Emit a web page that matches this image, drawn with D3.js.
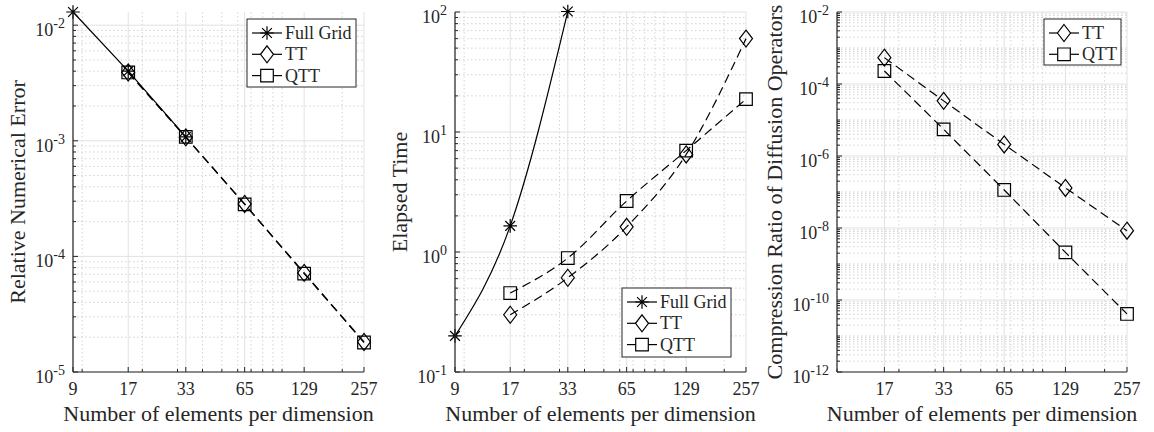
<!DOCTYPE html>
<html><head><meta charset="utf-8">
<script src="https://cdn.jsdelivr.net/npm/d3@7/dist/d3.min.js"></script>
<style>body{margin:0;background:#fff}svg{display:block}text{font-family:"Liberation Serif","Times New Roman",serif;fill:#262626}</style>
</head><body>
<svg id="c" width="1154" height="432"></svg>
<script>
// ---- data ----
const xTicksAll = [9, 17, 33, 65, 129, 257];
const xFull = [9, 17, 33];
const xTT = [17, 33, 65, 129, 257];
const errFull = [0.013, 0.0040, 0.00108];
const errTT = [0.0039, 0.00107, 2.84e-4, 7.2e-5, 1.82e-5];
const errQTT = [0.0039, 0.00108, 2.82e-4, 7.1e-5, 1.80e-5];
const timeFull = [0.2, 1.65, 101];
const timeTT = [0.30, 0.61, 1.62, 6.5, 60];
const timeQTT = [0.455, 0.89, 2.66, 7.0, 18.8];
const compTT = [5.4e-4, 3.4e-5, 2.1e-6, 1.3e-7, 8.4e-9];
const compQTT = [2.3e-4, 5.5e-6, 1.14e-7, 2.1e-9, 4.1e-11];
const yTicks1 = [1e-5, 1e-4, 1e-3, 1e-2];
const yTicks2 = [1e-1, 1e0, 1e1, 1e2];
const yTicks3 = [1e-12, 1e-10, 1e-8, 1e-6, 1e-4, 1e-2];
const xTicks3 = [17, 33, 65, 129, 257];
const xMinor = [10, 20, 30, 40, 50, 60, 70, 80, 90, 100, 200];

const svg = d3.select("#c");
const AX = "#262626";

function markerPath(type, r) {
  if (type === "star") {
    const d = r * 0.72;
    return `M${-r},0L${r},0M0,${-r}L0,${r}M${-d},${-d}L${d},${d}M${-d},${d}L${d},${-d}`;
  }
  if (type === "diamond") return `M0,${-8.5}L6.5,0L0,8.5L-6.5,0Z`;
  return `M-6.3,-6.3L6.3,-6.3L6.3,6.3L-6.3,6.3Z`;
}

function panel(cfg) {
  const g = svg.append("g");
  const x = d3.scaleLog().domain(cfg.xDomain).range([cfg.left, cfg.right]);
  const y = d3.scaleLog().domain(cfg.yDomain).range([372, 12]);
  const [y0, y1] = cfg.yDomain;
  // minor y values
  const yMinor = [];
  for (let e = Math.floor(Math.log10(y0)); e <= Math.ceil(Math.log10(y1)); e++) {
    for (let k = 1; k <= 9; k++) {
      const v = k * Math.pow(10, e);
      if (v >= y0 * 0.999 && v <= y1 * 1.001 && !cfg.yTicks.some(t => Math.abs(t - v) / v < 1e-6)) yMinor.push(v);
    }
  }
  const xm = xMinor.filter(v => v >= cfg.xDomain[0] && v <= cfg.xDomain[1] && !cfg.xTicks.includes(v));
  // minor grid
  g.selectAll(null).data(yMinor).join("line")
    .attr("x1", cfg.left).attr("x2", cfg.right).attr("y1", d => y(d)).attr("y2", d => y(d))
    .attr("stroke", "#c8c8c8").attr("stroke-width", 0.8).attr("stroke-dasharray", "1.5,2.5");
  g.selectAll(null).data(xm).join("line")
    .attr("y1", 12).attr("y2", 372).attr("x1", d => x(d)).attr("x2", d => x(d))
    .attr("stroke", "#c8c8c8").attr("stroke-width", 0.8).attr("stroke-dasharray", "1.5,2.5");
  // major grid
  g.selectAll(null).data(cfg.yTicks).join("line")
    .attr("x1", cfg.left).attr("x2", cfg.right).attr("y1", d => y(d)).attr("y2", d => y(d))
    .attr("stroke", "#e2e2e2").attr("stroke-width", 1);
  g.selectAll(null).data(cfg.xTicks).join("line")
    .attr("y1", 12).attr("y2", 372).attr("x1", d => x(d)).attr("x2", d => x(d))
    .attr("stroke", "#e2e2e2").attr("stroke-width", 1);

  // series
  cfg.series.forEach(s => {
    const pts = s.xs.map((xv, i) => [x(xv), y(s.ys[i])]);
    const line = d3.line().curve(cfg.smooth ? d3.curveMonotoneX : d3.curveLinear);
    g.append("path").attr("d", line(pts)).attr("fill", "none").attr("stroke", "#000")
      .attr("stroke-width", 1.2).attr("stroke-dasharray", s.dash ? "9,5" : null);
    g.selectAll(null).data(pts).join("path")
      .attr("transform", d => `translate(${d[0]},${d[1]})`)
      .attr("d", markerPath(s.marker, 6.8)).attr("fill", "none").attr("stroke", "#000").attr("stroke-width", 1.2);
  });

  // axes lines
  g.append("line").attr("x1", cfg.left).attr("x2", cfg.left).attr("y1", 12).attr("y2", 372).attr("stroke", AX).attr("stroke-width", 1.2);
  g.append("line").attr("x1", cfg.left).attr("x2", cfg.right).attr("y1", 372).attr("y2", 372).attr("stroke", AX).attr("stroke-width", 1.2);
  // ticks
  g.selectAll(null).data(cfg.yTicks).join("line")
    .attr("x1", cfg.left).attr("x2", cfg.left + 5).attr("y1", d => y(d)).attr("y2", d => y(d)).attr("stroke", AX);
  g.selectAll(null).data(yMinor).join("line")
    .attr("x1", cfg.left).attr("x2", cfg.left + 3).attr("y1", d => y(d)).attr("y2", d => y(d)).attr("stroke", AX);
  g.selectAll(null).data(cfg.xTicks).join("line")
    .attr("y1", 372).attr("y2", 367).attr("x1", d => x(d)).attr("x2", d => x(d)).attr("stroke", AX);
  g.selectAll(null).data(xm).join("line")
    .attr("y1", 372).attr("y2", 369).attr("x1", d => x(d)).attr("x2", d => x(d)).attr("stroke", AX);

  // tick labels
  g.selectAll(null).data(cfg.xTicks).join("text")
    .attr("x", d => x(d)).attr("y", 395).attr("text-anchor", "middle").attr("font-size", 18).text(d => d);
  const yl = g.selectAll(null).data(cfg.yTicks).join("text")
    .attr("x", cfg.left - 8).attr("y", d => y(d) + 11).attr("text-anchor", "end").attr("font-size", 18);
  yl.append("tspan").text("10");
  yl.append("tspan").attr("font-size", 14).attr("dy", -8).text(d => String(Math.round(Math.log10(d))));

  // axis titles
  g.append("text").attr("x", (cfg.left + cfg.right) / 2).attr("y", 421).attr("text-anchor", "middle")
    .attr("font-size", 22).text("Number of elements per dimension");
  g.append("text").attr("transform", `translate(${cfg.ylabX},192) rotate(-90)`).attr("text-anchor", "middle")
    .attr("font-size", 22).text(cfg.ylabel);

  // legend
  const L = cfg.legend;
  g.append("rect").attr("x", L.x).attr("y", L.y).attr("width", L.w).attr("height", L.h)
    .attr("fill", "#fff").attr("stroke", AX).attr("stroke-width", 1);
  cfg.series.forEach((s, i) => {
    const cy = L.y + 14 + i * 21.3;
    g.append("line").attr("x1", L.x + 5).attr("x2", L.x + 35).attr("y1", cy).attr("y2", cy)
      .attr("stroke", "#000").attr("stroke-width", 1.2);
    g.append("path").attr("transform", `translate(${L.x + 20},${cy})`).attr("d", markerPath(s.marker, 6.8))
      .attr("fill", "#fff").attr("stroke", "#000").attr("stroke-width", 1.2);
    g.append("text").attr("x", L.x + 38).attr("y", cy + 6).attr("font-size", 18).text(s.name);
  });
}

panel({
  left: 73, right: 364, xDomain: [9, 257], yDomain: [1e-5, 0.013], xTicks: xTicksAll, yTicks: yTicks1,
  ylabel: "Relative Numerical Error", ylabX: 25, smooth: false,
  series: [
    {name: "Full Grid", xs: xFull, ys: errFull, marker: "star", dash: false},
    {name: "TT", xs: xTT, ys: errTT, marker: "diamond", dash: true},
    {name: "QTT", xs: xTT, ys: errQTT, marker: "square", dash: true}
  ],
  legend: {x: 247, y: 19, w: 109, h: 68}
});
panel({
  left: 455, right: 746, xDomain: [9, 257], yDomain: [0.1, 100], xTicks: xTicksAll, yTicks: yTicks2,
  ylabel: "Elapsed Time", ylabX: 407, smooth: true,
  series: [
    {name: "Full Grid", xs: xFull, ys: timeFull, marker: "star", dash: false},
    {name: "TT", xs: xTT, ys: timeTT, marker: "diamond", dash: true},
    {name: "QTT", xs: xTT, ys: timeQTT, marker: "square", dash: true}
  ],
  legend: {x: 622, y: 288, w: 109, h: 69}
});
panel({
  left: 837, right: 1127, xDomain: [10, 257], yDomain: [1e-12, 1e-2], xTicks: xTicks3, yTicks: yTicks3,
  ylabel: "Compression Ratio of Diffusion Operators", ylabX: 782, smooth: false,
  series: [
    {name: "TT", xs: xTT, ys: compTT, marker: "diamond", dash: true},
    {name: "QTT", xs: xTT, ys: compQTT, marker: "square", dash: true}
  ],
  legend: {x: 1044, y: 19, w: 77, h: 46}
});
</script>
</body></html>
